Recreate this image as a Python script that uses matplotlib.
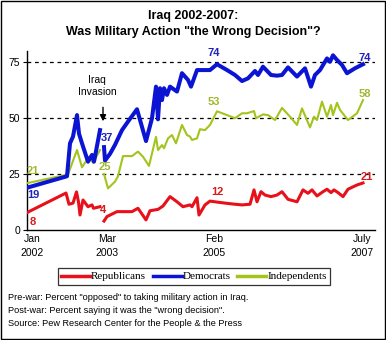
import numpy as np
import matplotlib
matplotlib.use("Agg")
import matplotlib.pyplot as plt
from matplotlib.patches import Rectangle
from matplotlib.lines import Line2D

# ---- data (x = survey position along timeline, arbitrary units) ----
tick_pos = [4, 79, 186, 334]
tick_labels = ["Jan\n2002", "Mar\n2003", "Feb\n2005", "July\n2007"]

dem_pre_pos = [0, 39, 42, 45, 49, 51, 54, 60, 64, 66, 72]
dem_pre = [19, 24, 38.7, 41.7, 51.3, 43, 38.7, 30.5, 33.5, 30.5, 44.6]
dem_post_pos = [76, 77, 82, 87, 94, 100, 109, 118, 124, 128, 130, 132, 134, 136, 139, 142,
                149, 154, 160, 163, 169, 182, 189, 199, 207, 214, 220, 227, 230, 235, 243,
                249, 254, 260, 269, 277, 283, 287, 292, 299, 302, 305, 309, 314, 319, 327, 335]
dem_post = [37, 31, 34, 38, 44.6, 48.4, 53.9, 39.7, 49.9, 64, 49.4, 63.3, 58, 63.3, 60.3, 64,
            61.8, 70, 67, 64, 71.4, 71.4, 74, 71.4, 69.2, 66.5, 67.7, 71, 69.2, 72.9, 69.2,
            68.9, 69.2, 72.6, 68.5, 72.2, 64, 69.2, 71.4, 76.6, 75.1, 78, 75.9, 73.7, 70, 72.2, 74]

ind_pre_pos = [0, 40, 49, 54, 61, 65, 72]
ind_pre = [21, 24.8, 35.7, 28, 32.7, 30, 35.7]
ind_post_pos = [76, 80, 87, 90, 95, 104, 110, 115, 121, 126, 128, 130, 134, 136, 140, 144,
                148, 154, 159, 162, 164, 169, 172, 177, 182, 189, 199, 207, 214, 219, 226,
                228, 235, 240, 247, 254, 262, 269, 274, 282, 286, 289, 294, 299, 303, 305,
                309, 312, 320, 329, 335]
ind_post = [25, 18.6, 21.6, 24, 33, 33, 35, 32.7, 28.6, 37.9, 41.6, 35.7, 37.9, 36.5, 40.9,
            42.4, 38.7, 46.9, 42.4, 41.7, 40.2, 40.9, 45, 44.6, 46.9, 53, 51.3, 49.9, 52.1,
            52.1, 53.1, 49.9, 51.6, 51.3, 49.1, 54.5, 50.6, 46.9, 54.3, 45.8, 50.6, 49.1,
            57.3, 50.6, 55.8, 51.3, 56.8, 53.6, 49.1, 52.1, 58]

rep_pre_pos = [0, 38, 41, 45, 48.5, 50.5, 52, 55, 60, 64, 65.5, 72]
rep_pre = [8, 16.5, 11.5, 12, 17, 12.5, 6.7, 13.4, 10.4, 11.2, 9.7, 10.4]
rep_post_pos = [76, 79, 89, 97, 104, 110, 118, 122, 130, 135, 142, 149, 155, 162, 164, 169,
                171, 177, 182, 190, 199, 207, 214, 222, 226, 229, 233, 237, 243, 249, 254,
                260, 269, 275, 280, 284, 289, 295, 299, 303, 306, 310, 315, 320, 329, 335]
rep_post = [4, 6, 8.2, 8.2, 8.2, 9.7, 4.5, 8.6, 9.2, 10.7, 14.9, 12.6, 10.4, 11.2, 10.4, 14.4,
            6.7, 11.2, 12.9, 12.4, 11.9, 11.5, 11.2, 11.5, 17.9, 12.6, 17.1, 15.6, 14.9, 15.6,
            17.1, 13.7, 12.6, 17.9, 16.4, 17.9, 15.2, 17.1, 18.2, 16.7, 17.9, 16.7, 14.9, 18.2,
            20.1, 21]

# value labels: (pos, y, text)
dem_labels = [(5, 15.6, "19"), (79, 41, "37"), (186, 78.9, "74"), (337, 76.6, "74")]
ind_labels = [(5, 26.5, "21"), (77, 28.3, "25"), (186, 57.3, "53"), (337, 60.7, "58")]
rep_labels = [(5, 3.7, "8"), (75.5, 8.9, "4"), (189, 16.8, "12"), (339, 23.8, "21")]

RED = "#e8101a"
BLUE = "#0c14d4"
GREEN = "#a2c41c"
RED_T = "#d81a1a"
BLUE_T = "#1f24b8"
GREEN_T = "#a0b830"

W, H = 386, 340
fig = plt.figure(figsize=(W / 100, H / 100), dpi=100)
fig.patch.set_facecolor("white")

ax = fig.add_axes([27 / W, (H - 230) / H, 348 / W, 179.2 / H])
ax.set_xlim(-1, 347)
ax.set_ylim(0, 80)

for yv in [25, 50, 75]:
    ax.axhline(yv, color="black", lw=0.9, ls=(0, (3, 3)), zorder=1)

ax.plot(ind_pre_pos, ind_pre, color=GREEN, lw=1.5, zorder=3)
ax.plot(ind_post_pos, ind_post, color=GREEN, lw=1.5, zorder=3)
ax.plot(rep_pre_pos, rep_pre, color=RED, lw=2.2, zorder=3)
ax.plot(rep_post_pos, rep_post, color=RED, lw=2.2, zorder=3)
ax.plot(dem_pre_pos, dem_pre, color=BLUE, lw=2.9, zorder=4)
ax.plot(dem_post_pos, dem_post, color=BLUE, lw=2.9, zorder=4)

lab_font = dict(family="Liberation Sans", fontsize=8, fontweight="bold", ha="center", va="center")
for p, yv, t in dem_labels:
    ax.text(p, yv, t, color=BLUE_T, zorder=6, **lab_font)
for p, yv, t in ind_labels:
    ax.text(p, yv, t, color=GREEN_T, zorder=6, **lab_font)
for p, yv, t in rep_labels:
    ax.text(p, yv, t, color=RED_T, zorder=6, **lab_font)

# annotation
ax.annotate("", xy=(75, 47.3), xytext=(75, 56),
            arrowprops=dict(arrowstyle="-|>", color="black", lw=1.0, mutation_scale=9))
ax.text(69, 64.5, "Iraq\nInvasion", ha="center", va="center", fontsize=7.5,
        family="Liberation Sans", linespacing=1.25)

for s in ["top", "right"]:
    ax.spines[s].set_visible(False)
ax.spines["left"].set_linewidth(1.0)
ax.spines["bottom"].set_linewidth(1.0)
ax.set_yticks([0, 25, 50, 75])
ax.set_yticklabels(["0", "25", "50", "75"], family="Liberation Sans", fontsize=7.5)
ax.tick_params(axis="y", length=3, width=0.8, pad=2)
ax.set_xticks(tick_pos)
ax.set_xticklabels(tick_labels, family="Liberation Sans", fontsize=7.5, linespacing=1.5)
ax.tick_params(axis="x", length=0, pad=3)

fig.text(0.5, 1 - 16 / H, "Iraq 2002-2007:", ha="center", va="center",
         fontsize=9, fontweight="bold", family="Liberation Sans")
fig.text(0.5, 1 - 32 / H, "Was Military Action \"the Wrong Decision\"?", ha="center", va="center",
         fontsize=9, fontweight="bold", family="Liberation Sans")

# legend
handles = [Line2D([], [], color=RED, lw=2.5), Line2D([], [], color=BLUE, lw=2.5),
           Line2D([], [], color=GREEN, lw=2.5)]
leg = fig.legend(handles, ["Republicans", "Democrats", "Independents"], loc="center",
                 bbox_to_anchor=(194 / W, 1 - 276.5 / H), ncol=3, frameon=True, fancybox=False,
                 edgecolor="black", prop=dict(family="Liberation Serif", size=8),
                 handlelength=2.6, handletextpad=0.1, columnspacing=0.6, borderpad=0.3)
leg.get_frame().set_linewidth(0.9)

notes = ["Pre-war: Percent \"opposed\" to taking military action in Iraq.",
         "Post-war: Percent saying it was the \"wrong decision\".",
         "Source: Pew Research Center for the People & the Press"]
for i, n in enumerate(notes):
    fig.text(8 / W, 1 - (297 + 13.5 * i) / H, n, ha="left", va="center", fontsize=6.6,
             family="Liberation Sans")

fig.add_artist(Rectangle((0.5 / W, 1.5 / H), 1 - 1.5 / W, 1 - 2.5 / H, transform=fig.transFigure,
                         fill=False, edgecolor="black", lw=1.0))

fig.savefig("out.png", dpi=100)
